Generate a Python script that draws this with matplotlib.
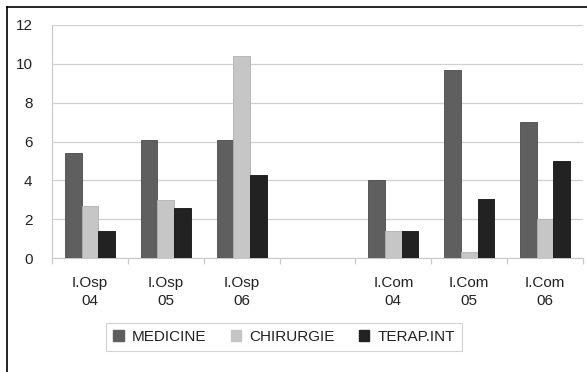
import matplotlib
matplotlib.use("Agg")
import matplotlib.pyplot as plt
from matplotlib.lines import Line2D
from matplotlib.patches import Patch
import numpy as np

plt.rcParams['font.family'] = ['Liberation Sans', 'DejaVu Sans']

categories = ["I.Osp\n04", "I.Osp\n05", "I.Osp\n06", "", "I.Com\n04", "I.Com\n05", "I.Com\n06"]
series_names = ["MEDICINE", "CHIRURGIE", "TERAP.INT"]
medicine = [5.4, 6.1, 6.1, np.nan, 4.0, 9.7, 7.0]
chirurgie = [2.7, 3.0, 10.4, np.nan, 1.4, 0.3, 2.0]
terap_int = [1.4, 2.6, 4.3, np.nan, 1.4, 3.05, 5.0]
yticks = [0, 2, 4, 6, 8, 10, 12]

colors = ["#5f5f5f", "#c6c6c6", "#222222"]
edges = ["#4a4a4a", "#b0b0b0", "#111111"]

fig = plt.figure(figsize=(5.87, 3.72), dpi=100)
ax = fig.add_axes([52/587, 114/372, 531/587, 233/372])

x = np.arange(len(categories))
w = 0.22
for i, (vals, c, ec) in enumerate(zip([medicine, chirurgie, terap_int], colors, edges)):
    ax.bar(x + (i - 1) * w, vals, width=w, color=c, edgecolor=ec, linewidth=0.6, zorder=3)

ax.set_xlim(-0.5, len(categories) - 0.5)
ax.set_ylim(0, 12)
ax.set_yticks(yticks)
ax.set_yticklabels([str(v) for v in yticks], fontsize=11, color="#222222")
ax.yaxis.grid(True, color="#d0d0d0", linewidth=0.9, zorder=0)
ax.tick_params(axis="y", length=0, pad=14)

ax.set_xticks(x)
ax.set_xticklabels(categories, fontsize=11, linespacing=1.35, color="#222222")
ax.tick_params(axis="x", which="major", length=0, pad=13)
ax.set_xticks(np.arange(-0.5, len(categories)), minor=True)
ax.tick_params(axis="x", which="minor", length=4, color="#c8c8c8", width=0.9)

for s in ["top", "right"]:
    ax.spines[s].set_visible(False)
ax.spines["left"].set_color("#c8c8c8")
ax.spines["bottom"].set_color("#c8c8c8")
ax.spines["left"].set_zorder(1)

handles = [Patch(facecolor=c, edgecolor=c) for c in colors]
leg = fig.legend(handles, series_names, loc="center", bbox_to_anchor=(284/587, 1 - 337/372),
                 ncol=3, frameon=True, fancybox=False, fontsize=11,
                 handlelength=0.7, handleheight=0.7, handletextpad=0.5,
                 columnspacing=1.6, borderpad=0.45, borderaxespad=0)
leg.get_frame().set_edgecolor("#c8c8c8")
leg.get_frame().set_linewidth(0.8)
for t in leg.get_texts():
    t.set_color("#222222")

# outer frame lines (left and top)
fig.add_artist(Line2D([7/587, 7/587], [0, 1 - 7/372], color="black", linewidth=1.2, transform=fig.transFigure))
fig.add_artist(Line2D([7/587, 1], [1 - 7/372, 1 - 7/372], color="black", linewidth=1.2, transform=fig.transFigure))

fig.savefig("out.png", dpi=100)
